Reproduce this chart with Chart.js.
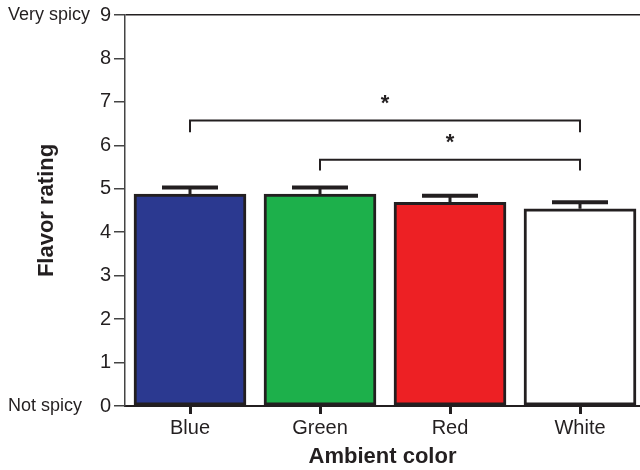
<!DOCTYPE html>
<html>
<head>
<meta charset="utf-8">
<script src="https://cdn.jsdelivr.net/npm/chart.js@4"></script>
<style>
  html, body { margin: 0; padding: 0; background: #fff; overflow: hidden; }
  #wrap { width: 640px; height: 470px; }
</style>
</head>
<body>
<div id="wrap"><canvas id="flavorChart" width="640" height="470"></canvas></div>
<script>
var categories = ['Blue', 'Green', 'Red', 'White'];
var ratings = [4.88, 4.88, 4.69, 4.54];
var errors = [0.15, 0.15, 0.15, 0.15];
var barColors = ['#2B3990', '#1DB04B', '#ED2024', '#FFFFFF'];
var yTicks = [0, 1, 2, 3, 4, 5, 6, 7, 8, 9];
// significance brackets: [from, to, bar level, leg bottom, star level]
var brackets = [
    [0, 3, 6.57, 6.30, 7.05],
    [1, 3, 5.67, 5.42, 6.15]
];
var ink = '#231F20';
var fontFamily = '"Liberation Sans", Arial, Helvetica, sans-serif';

var extrasPlugin = {
    id: 'extras',
    afterDatasetsDraw: function(chart) {
        var ctx = chart.ctx;
        var xs = chart.scales.x, ys = chart.scales.y;
        ctx.save();
        ctx.strokeStyle = ink;
        // error bars
        ratings.forEach(function(v, i) {
            var x = xs.getPixelForValue(i);
            var y0 = ys.getPixelForValue(v);
            var y1 = ys.getPixelForValue(v + errors[i]);
            ctx.lineWidth = 3;
            ctx.beginPath();
            ctx.moveTo(x, y0);
            ctx.lineTo(x, y1);
            ctx.stroke();
            ctx.lineWidth = 4;
            ctx.beginPath();
            ctx.moveTo(x - 28, y1);
            ctx.lineTo(x + 28, y1);
            ctx.stroke();
        });
        // brackets and stars
        ctx.lineWidth = 2;
        ctx.fillStyle = ink;
        ctx.font = 'bold 22px ' + fontFamily;
        ctx.textAlign = 'center';
        ctx.textBaseline = 'middle';
        brackets.forEach(function(b) {
            var xa = xs.getPixelForValue(b[0]);
            var xb = xs.getPixelForValue(b[1]);
            var yt = ys.getPixelForValue(b[2]);
            var yl = ys.getPixelForValue(b[3]);
            ctx.beginPath();
            ctx.moveTo(xa, yl);
            ctx.lineTo(xa, yt);
            ctx.lineTo(xb, yt);
            ctx.lineTo(xb, yl);
            ctx.stroke();
            ctx.fillText('*', (xa + xb) / 2, ys.getPixelForValue(b[4]) + 4);
        });
        // end labels of the scale
        ctx.font = '18px ' + fontFamily;
        ctx.textAlign = 'left';
        ctx.fillText('Very spicy', 8, ys.getPixelForValue(9));
        ctx.fillText('Not spicy', 8, ys.getPixelForValue(0));
        ctx.restore();
    }
};

var ctx = document.getElementById('flavorChart').getContext('2d');
var flavorChart = new Chart(ctx, {
    type: 'bar',
    data: {
        datasets: [{
            label: 'Flavor rating',
            data: ratings.map(function(v, i) { return { x: i, y: v }; }),
            backgroundColor: barColors,
            borderColor: ink,
            borderWidth: 3,
            borderSkipped: false,
            barThickness: 112
        }]
    },
    options: {
        responsive: false,
        animation: false,
        layout: { padding: { top: 14, right: 0, left: 0, bottom: 0 } },
        plugins: {
            legend: { display: false },
            tooltip: { enabled: false }
        },
        scales: {
            x: {
                type: 'linear',
                min: -0.5,
                max: 3.4615,
                bounds: 'data',
                offset: false,
                afterBuildTicks: function(scale) {
                    scale.ticks = categories.map(function(c, i) { return { value: i }; });
                },
                afterFit: function(scale) { scale.height = 64; },
                ticks: {
                    color: ink,
                    font: { family: fontFamily, size: 20 },
                    padding: 2,
                    maxRotation: 0,
                    callback: function(v) { return categories[v]; }
                },
                grid: {
                    offset: false,
                    color: 'transparent',
                    drawTicks: true,
                    tickColor: ink,
                    tickLength: 8,
                    tickWidth: 3
                },
                border: { display: true, color: ink, width: 2 },
                title: {
                    display: true,
                    text: 'Ambient color',
                    color: ink,
                    font: { family: fontFamily, size: 22, weight: 'bold' },
                    padding: { top: 0, bottom: 0 }
                }
            },
            y: {
                min: 0,
                max: 9,
                afterBuildTicks: function(scale) {
                    scale.ticks = yTicks.map(function(v) { return { value: v }; });
                },
                afterFit: function(scale) { scale.width = 125; },
                ticks: {
                    color: ink,
                    font: { family: fontFamily, size: 20 },
                    padding: 3
                },
                grid: {
                    color: function(c) { return c.tick && c.tick.value === 9 ? ink : 'transparent'; },
                    lineWidth: 1.5,
                    drawTicks: true,
                    tickColor: '#444',
                    tickLength: 11,
                    tickWidth: 1.5
                },
                border: { display: true, color: '#444', width: 1.5 },
                title: {
                    display: true,
                    text: 'Flavor rating',
                    color: ink,
                    font: { family: fontFamily, size: 22, weight: 'bold' },
                    padding: { top: 34, bottom: 0 }
                }
            }
        }
    },
    plugins: [extrasPlugin]
});
</script>
</body>
</html>
